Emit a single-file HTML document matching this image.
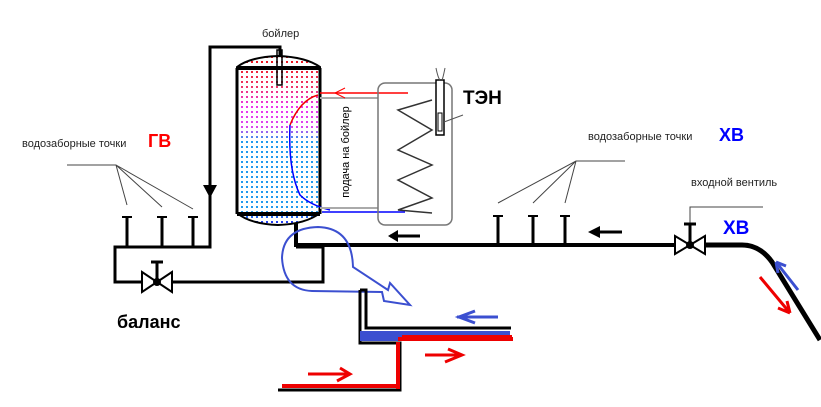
<!DOCTYPE html>
<html><head><meta charset="utf-8"><style>
html,body{margin:0;padding:0;background:#fff;}
svg{display:block;font-family:"Liberation Sans",sans-serif;}
</style></head><body>
<svg width="821" height="407" viewBox="0 0 821 407" xmlns="http://www.w3.org/2000/svg">
<defs>
<linearGradient id="tk" x1="0" y1="0" x2="0" y2="1">
<stop offset="0" stop-color="#ee1111"/><stop offset="0.18" stop-color="#ee3366"/>
<stop offset="0.3" stop-color="#ee33ee"/><stop offset="0.42" stop-color="#dd44ee"/><stop offset="0.5" stop-color="#2299ee"/>
<stop offset="0.92" stop-color="#2299ee"/><stop offset="1" stop-color="#2222ee"/></linearGradient>
<pattern id="dots" width="5" height="5" patternUnits="userSpaceOnUse"><path d="M0,0h5v5h-5z M1,1v2h2v-2z" fill="#fff" fill-rule="evenodd"/></pattern>
</defs>
<g fill="none" stroke="#000">
<polyline points="280,80 280,47 210,47 210,247 115,247 115,282 323,282 323,247 296,247" stroke-width="3"/>
<polyline points="296,215 296,245 680,245" stroke-width="4"/>
<path d="M700,245 L742,245 Q760,245 772,262 L820,340" stroke-width="5"/>
<path d="M127,216V247M162,216V247M193,216V247" stroke-width="3"/>
<path d="M122,217h10M157,217h10M188,217h10" stroke-width="2"/>
<path d="M67,165H116L127,205M116,165L162,207M116,165L193,209" stroke-width="1" stroke="#444"/>
<path d="M498,215V245M533,215V245M565,215V245" stroke-width="3"/>
<path d="M493,216h10M528,216h10M560,216h10" stroke-width="2"/>
<path d="M625,161H576L498,203M576,161L533,203M576,161L565,203" stroke-width="1" stroke="#444"/>
<path d="M690,225V207H763" stroke-width="1" stroke="#444"/>
</g>
<polygon points="203,185 217,185 210,198" fill="#000"/>
<path d="M390,236H420" stroke="#000" stroke-width="3"/><polygon points="388,236 398,230 398,242" fill="#000"/>
<path d="M592,232H622" stroke="#000" stroke-width="3"/><polygon points="588,232 600,226 600,238" fill="#000"/>
<g stroke="#000" stroke-width="2" fill="#fff">
<polygon points="142,272 157,282 142,292"/><polygon points="172,272 157,282 172,292"/>
<path d="M157,282V262M151,262h12" fill="none" stroke-width="3"/>
<polygon points="675,236 690,245 675,254"/><polygon points="705,236 690,245 705,254"/>
<path d="M690,245V224M684,224h12" fill="none" stroke-width="3"/>
</g>
<circle cx="157" cy="282" r="4"/><circle cx="690" cy="245" r="4"/>
<path d="M237,67 Q250,57 278,56 Q306,57 320,67 L320,213 Q306,224 278,225 Q250,224 237,213 Z" fill="url(#tk)"/>
<path d="M237,67 Q250,57 278,56 Q306,57 320,67 L320,213 Q306,224 278,225 Q250,224 237,213 Z" fill="url(#dots)" stroke="#000" stroke-width="2"/>
<path d="M237,68H320M237,214H320" stroke="#000" stroke-width="4"/>
<path d="M237,68V214M320,68V214" stroke="#000" stroke-width="3"/>
<rect x="277" y="50" width="5" height="35" fill="none" stroke="#000" stroke-width="1.5"/>
<path d="M290,125 Q300,100 318,95" stroke="#e00" stroke-width="1.5" fill="none"/>
<path d="M290,125 Q288,170 300,195 Q310,205 330,210" stroke="#0000ff" stroke-width="1.5" fill="none"/>
<path d="M320,98H378M320,208H378" stroke="#aaa" stroke-width="2"/>
<path d="M408,93H320" stroke="#f00" stroke-width="1.5"/><path d="M345,88L335,93L345,98" stroke="#f00" fill="none"/>
<path d="M322,212H405" stroke="#00f" stroke-width="1.5"/>
<rect x="378" y="83" width="74" height="142" rx="7" fill="none" stroke="#777" stroke-width="1.5"/>
<polyline points="432,100 398,110 432,130 398,150 432,165 398,180 432,198 398,210 432,213" fill="none" stroke="#333" stroke-width="1.5"/>
<rect x="436" y="80" width="8" height="55" fill="#fff" stroke="#000" stroke-width="1.5"/>
<rect x="438" y="113" width="4" height="18" fill="none" stroke="#000"/>
<path d="M436,68 Q438,78 440,80M445,68 Q443,78 442,80M444,122 L463,115" stroke="#555" fill="none"/>
<text x="349" y="152" font-size="11" fill="#000" transform="rotate(-90 349 152)" text-anchor="middle">подача на бойлер</text>
<path d="M388,290 L353,267 Q352,228 318,227 Q283,228 282,258 Q284,290 312,291 L382,292 L384,301 L410,305 L390,283 Z" fill="none" stroke="#3b4fd0" stroke-width="2"/>
<path d="M360,290V343H400V390H278" fill="none" stroke="#000" stroke-width="3"/>
<path d="M360,290H366V328H511" fill="none" stroke="#000" stroke-width="3"/>
<rect x="360" y="331" width="150" height="10" fill="#3b4fd0"/>
<path d="M398,339H513M398,342V389M282,386H398" stroke="#e00" stroke-width="4" fill="none"/>
<path d="M402,336H512" stroke="#e00" stroke-width="2"/>
<path d="M457,317H498" stroke="#3b4fd0" stroke-width="3"/><path d="M475,311L459,317L475,323" stroke="#3b4fd0" stroke-width="3" fill="none"/>
<path d="M425,355H460" stroke="#e00" stroke-width="3"/><path d="M448,349L462,355L445,362" stroke="#e00" stroke-width="3" fill="none"/>
<path d="M308,374H350" stroke="#e00" stroke-width="3"/><path d="M340,368L350,374L337,381" stroke="#e00" stroke-width="3" fill="none"/>
<path d="M798,290L776,262M776,262L778,273M776,262L786,266" stroke="#3b4fd0" stroke-width="3" fill="none"/>
<path d="M760,277L790,313M790,313L778,308M790,313L787,301" stroke="#e00" stroke-width="3" fill="none"/>
<text x="262" y="37" font-size="11" fill="#222">бойлер</text>
<text x="463" y="104" font-size="19" font-weight="bold" fill="#000">ТЭН</text>
<text x="22" y="147" font-size="11" fill="#222">водозаборные точки</text>
<text x="148" y="147" font-size="18" font-weight="bold" fill="#f00">ГВ</text>
<text x="588" y="140" font-size="11" fill="#222">водозаборные точки</text>
<text x="719" y="141" font-size="18" font-weight="bold" fill="#00f">ХВ</text>
<text x="691" y="186" font-size="11" fill="#222">входной вентиль</text>
<text x="723" y="234" font-size="19" font-weight="bold" fill="#00f">ХВ</text>
<text x="117" y="328" font-size="18" font-weight="bold" fill="#000">баланс</text>
</svg>
</body></html>
